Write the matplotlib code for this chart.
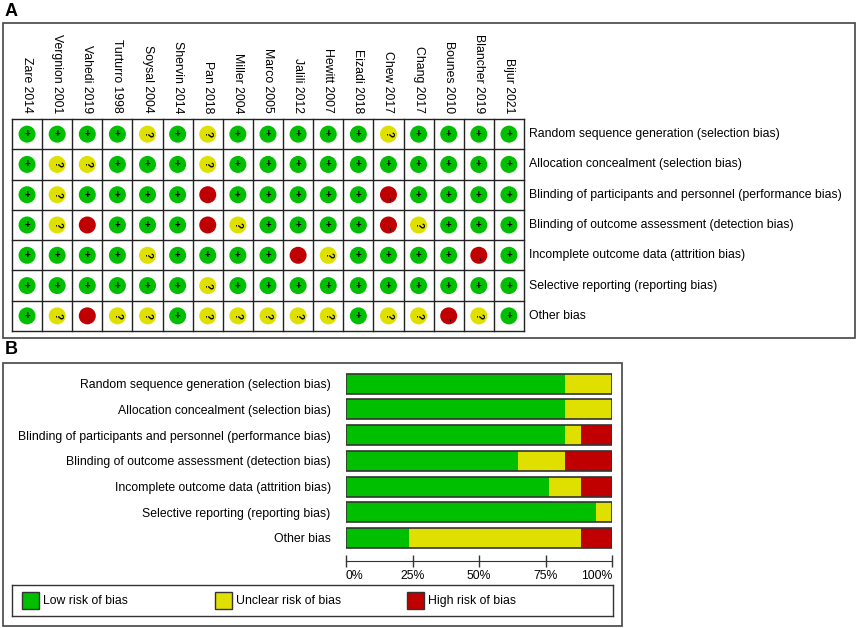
import numpy as np
import matplotlib
matplotlib.use("Agg")
import matplotlib.pyplot as plt
from matplotlib.patches import Rectangle

plt.rcParams['font.family'] = ['Liberation Sans', 'DejaVu Sans']

# datos del resumen de riesgo de sesgo
studies = ["Zare 2014", "Vergnion 2001", "Vahedi 2019", "Turturro 1998", "Soysal 2004",
           "Shervin 2014", "Pan 2018", "Miller 2004", "Marco 2005", "Jalili 2012",
           "Hewitt 2007", "Eizadi 2018", "Chew 2017", "Chang 2017", "Bounes 2010",
           "Blancher 2019", "Bijur 2021"]
domains = ["Random sequence generation (selection bias)",
           "Allocation concealment (selection bias)",
           "Blinding of participants and personnel (performance bias)",
           "Blinding of outcome assessment (detection bias)",
           "Incomplete outcome data (attrition bias)",
           "Selective reporting (reporting bias)",
           "Other bias"]
# una cadena por dominio, un caracter por estudio: + bajo, ? incierto, - alto
judgements = ["++++?+?+++++?++++",
              "+??+++?++++++++++",
              "+?++++-+++++-++++",
              "+?-+++-?++++-?+++",
              "++++?++++-?++++-+",
              "++++++?++++++++++",
              "+?-??+?????+??-?+"]
levels = ["+", "?", "-"]
legend_labels = ["Low risk of bias", "Unclear risk of bias", "High risk of bias"]
ticks = [0, 25, 50, 75, 100]
tick_labels = ["0%", "25%", "50%", "75%", "100%"]

colors = {"+": "#00bf00", "?": "#e0e000", "-": "#c00000"}
W, H = 858, 628
FS = 8.8

fig = plt.figure(figsize=(W / 100, H / 100), dpi=100)


def px_axes(x0, y0, x1, y1):
    return fig.add_axes([x0 / W, 1 - y1 / H, (x1 - x0) / W, (y1 - y0) / H])


def px_box(x0, y0, x1, y1):
    fig.add_artist(Rectangle((x0 / W, 1 - y1 / H), (x1 - x0) / W, (y1 - y0) / H,
                             transform=fig.transFigure, fill=False,
                             edgecolor="#444444", linewidth=1.2))


# ---------------- Panel A ----------------
fig.text(5 / W, 1 - 3 / H, "A", fontsize=13, fontweight="bold", va="top", ha="left")
px_box(3, 23, 855, 338)

ax_a = px_axes(12, 119, 524, 331)
n_s, n_d = len(studies), len(domains)
ax_a.set_xlim(0, n_s)
ax_a.set_ylim(n_d, 0)
ax_a.axis("off")
for i in range(n_s + 1):
    ax_a.plot([i, i], [0, n_d], color="#222222", lw=1, clip_on=False)
for j in range(n_d + 1):
    ax_a.plot([0, n_s], [j, j], color="#222222", lw=1, clip_on=False)

for j, row in enumerate(judgements):
    for i, val in enumerate(row):
        ax_a.scatter(i + 0.5, j + 0.5, s=150, color=colors[val], edgecolors="none",
                     zorder=3)
        dy = 0.12 if val == "-" else 0
        ax_a.text(i + 0.5, j + 0.5 + dy, val, rotation=0 if val == "+" else 270,
                  ha="center", va="center", fontsize=7, fontweight="bold",
                  color="black", zorder=4)

for i, name in enumerate(studies):
    ax_a.text(i + 0.5, -0.2, name, rotation=270, ha="center", va="bottom",
              fontsize=FS, clip_on=False)
for j, dom in enumerate(domains):
    ax_a.text(n_s + 0.17, j + 0.5, dom, ha="left", va="center", fontsize=FS,
              clip_on=False)

# ---------------- Panel B ----------------
fig.text(5 / W, 1 - 341 / H, "B", fontsize=13, fontweight="bold", va="top", ha="left")
px_box(3, 363, 622, 626)

ax_b = px_axes(346, 370.9, 612, 550.8)
y = np.arange(n_d)
left = np.zeros(n_d)
for lev in levels:
    pct = np.array([row.count(lev) / len(row) * 100 for row in judgements])
    ax_b.barh(y, pct, left=left, height=0.78, color=colors[lev], edgecolor="none")
    left += pct
ax_b.barh(y, left, height=0.78, fill=False, edgecolor="#333333", linewidth=1.2)
ax_b.set_xlim(0, 100)
ax_b.set_ylim(n_d - 0.5, -0.5)
ax_b.set_yticks(y)
ax_b.set_yticklabels(domains, fontsize=FS)
ax_b.tick_params(axis="y", length=0, pad=11)
for sp in ["top", "right", "left"]:
    ax_b.spines[sp].set_visible(False)
ax_b.spines["bottom"].set_position(("outward", 7.2))
ax_b.spines["bottom"].set_color("#333333")
ax_b.set_xticks(ticks)
ax_b.set_xticklabels(tick_labels, fontsize=FS)
ax_b.tick_params(axis="x", direction="inout", length=9, width=1, color="#333333", pad=2)
xl = ax_b.get_xticklabels()
xl[0].set_ha("left")
xl[-1].set_ha("right")

# leyenda
ax_l = px_axes(12, 585, 613, 616)
ax_l.set_xlim(0, 601)
ax_l.set_ylim(31, 0)
ax_l.set_xticks([])
ax_l.set_yticks([])
for sp in ax_l.spines.values():
    sp.set_color("#333333")
    sp.set_linewidth(1)
for k, (lev, lab) in enumerate(zip(levels, legend_labels)):
    x0 = 10 + k * 192.5
    ax_l.add_patch(Rectangle((x0, 7), 17, 17, facecolor=colors[lev],
                             edgecolor="#333333", linewidth=1))
    ax_l.text(x0 + 21, 16, lab, ha="left", va="center", fontsize=FS)

fig.savefig("out.png", dpi=100)
